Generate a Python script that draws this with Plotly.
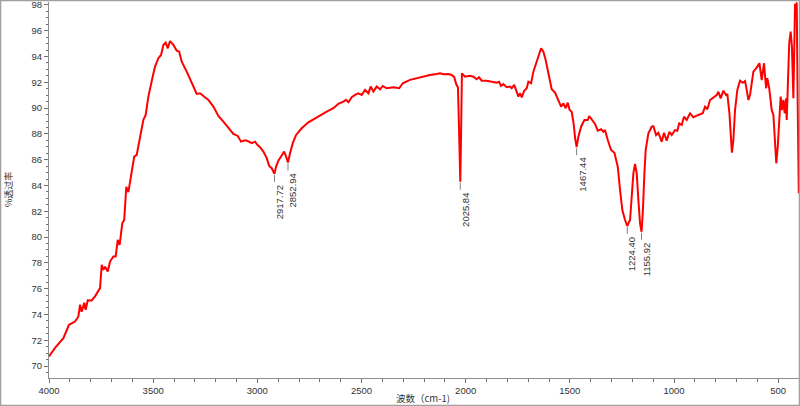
import plotly.graph_objects as go

# Wavenumber (cm-1) and transmittance (%)
wavenumber = [
    4000, 3971, 3931, 3904, 3875, 3859, 3851, 3843, 3831, 3824, 3814, 3795, 3779, 3763, 3755,
    3747, 3739, 3731, 3718, 3707, 3691, 3680, 3670, 3661, 3648, 3639, 3629, 3619, 3606, 3591,
    3579, 3563, 3547, 3536, 3523, 3504, 3491, 3475, 3462, 3451, 3440, 3430, 3419, 3403, 3387,
    3375, 3363, 3339, 3315, 3303, 3291, 3275, 3259, 3235, 3211, 3187, 3163, 3142, 3115, 3094,
    3078, 3063, 3051, 3027, 3011, 3000, 2987, 2971, 2955, 2943, 2931, 2917.72, 2910, 2899, 2883,
    2871, 2862, 2852.94, 2843, 2830, 2814, 2787, 2755, 2731, 2699, 2667, 2635, 2611, 2587, 2574,
    2563, 2547, 2531, 2515, 2499, 2483, 2467, 2456, 2443, 2427, 2411, 2398, 2379, 2347, 2319,
    2302, 2267, 2235, 2203, 2171, 2139, 2123, 2107, 2083, 2067, 2055, 2045, 2037, 2032, 2025.84,
    2022, 2018, 2003, 1979, 1963, 1947, 1936, 1923, 1899, 1875, 1851, 1840, 1830, 1819, 1803,
    1787, 1779, 1767, 1755, 1747, 1739, 1731, 1719, 1707, 1699, 1686, 1675, 1664, 1651, 1638,
    1627, 1616, 1603, 1587, 1571, 1555, 1542, 1531, 1520, 1510, 1501, 1491, 1482, 1474, 1467.44,
    1459, 1446, 1430, 1414, 1407, 1395, 1379, 1366, 1350, 1339, 1331, 1318, 1302, 1286, 1270,
    1259, 1248, 1235, 1224.40, 1211, 1203, 1195, 1187, 1179, 1171, 1163, 1155.92, 1150, 1142, 1136,
    1123, 1107, 1099, 1086, 1075, 1059, 1048, 1035, 1022, 1011, 995, 984, 975, 963, 952,
    939, 923, 907, 883, 862, 851, 840, 827, 808, 795, 787, 776, 763, 750, 744,
    734, 726, 722, 715, 707, 696, 683, 670, 659, 651, 643, 635, 627, 619, 603,
    590, 579, 568, 558, 552, 543, 531, 523, 515, 509, 502, 494, 488, 482, 475,
    469, 462, 459, 453, 447, 440, 434, 427, 422, 419, 414, 411, 406, 401,
]
transmittance = [
    70.74, 71.40, 72.16, 73.20, 73.45, 73.84, 74.75, 74.20, 74.90, 74.36, 75.10, 75.08, 75.40, 75.80, 76.04,
    77.84, 77.46, 77.70, 77.33, 78.10, 78.49, 78.49, 79.78, 79.40, 81.08, 81.33, 83.90, 83.48, 84.70, 86.24,
    86.37, 87.79, 89.09, 89.47, 90.89, 92.32, 93.22, 93.87, 94.12, 94.90, 95.08, 94.64, 95.20, 94.90, 94.46,
    94.38, 93.60, 92.83, 92.05, 91.54, 91.10, 91.15, 90.94, 90.64, 90.12, 89.40, 88.96, 88.52, 88.00, 87.84,
    87.40, 87.48, 87.48, 87.28, 87.40, 87.15, 86.97, 86.63, 86.12, 85.52, 85.34, 84.90, 85.47, 85.93, 86.37,
    86.63, 86.24, 85.78, 86.50, 87.28, 87.92, 88.44, 88.90, 89.14, 89.47, 89.73, 89.99, 90.33, 90.50, 90.64,
    90.46, 90.85, 91.02, 91.15, 91.02, 91.41, 91.15, 91.67, 91.28, 91.67, 91.46, 91.72, 91.54, 91.62, 91.54,
    91.93, 92.19, 92.32, 92.50, 92.57, 92.65, 92.70, 92.63, 92.65, 92.57, 92.40, 91.85, 91.60, 88.50, 84.30,
    88.00, 92.70, 92.44, 92.50, 92.44, 92.24, 92.39, 92.13, 92.13, 92.05, 91.97, 92.05, 91.72, 91.87, 91.62,
    91.67, 91.54, 91.80, 91.15, 90.89, 91.15, 90.84, 91.35, 91.54, 92.05, 91.93, 92.83, 93.35, 94.12, 94.64,
    94.38, 93.73, 92.70, 91.46, 91.20, 90.63, 90.11, 90.37, 89.99, 90.42, 89.85, 89.72, 88.82, 87.60, 86.98,
    87.78, 88.56, 89.08, 89.08, 89.39, 89.08, 88.77, 88.25, 88.36, 88.17, 88.30, 87.53, 86.75, 86.54, 85.46,
    83.65, 82.10, 81.32, 80.86, 81.32, 82.87, 84.94, 85.67, 84.94, 82.87, 81.06, 80.41, 81.84, 84.94, 86.75,
    88.05, 88.56, 88.60, 87.91, 88.09, 87.40, 88.09, 87.47, 88.17, 87.91, 88.30, 88.25, 88.82, 88.69, 89.33,
    89.08, 89.60, 89.29, 89.47, 89.60, 90.11, 89.91, 90.63, 90.84, 91.02, 91.27, 90.76, 91.35, 91.02, 91.10,
    89.60, 87.53, 86.54, 87.53, 89.85, 91.41, 92.13, 91.97, 92.10, 91.41, 90.63, 91.02, 91.93, 92.83, 93.14,
    93.48, 92.18, 93.48, 91.54, 92.32, 91.54, 89.85, 89.47, 87.53, 85.72, 87.01, 89.33, 90.89, 89.85, 90.63,
    89.60, 90.76, 89.08, 91.93, 95.03, 95.93, 94.77, 90.76, 94.51, 98.10, 97.35, 98.20, 90.00, 83.40,
]

# Labelled peaks
peak_x = [2917.72, 2852.94, 2025.84, 1467.44, 1224.40, 1155.92]
peak_y = [84.90, 85.78, 84.30, 86.98, 80.86, 80.41]

# Axis ticks
x_ticks = [4000, 3500, 3000, 2500, 2000, 1500, 1000, 500]
y_ticks = [70, 72, 74, 76, 78, 80, 82, 84, 86, 88, 90, 92, 94, 96, 98]

W, H = 800, 406
L, R, T, B = 49, 1, 2, 28
PW, PH = W - L - R, H - T - B

fig = go.Figure()
fig.add_trace(go.Scatter(
    x=wavenumber, y=transmittance, mode="lines",
    line=dict(color="#ff0000", width=2), hoverinfo="x+y", showlegend=False,
))

tick_font = dict(family="Liberation Sans, Arial, sans-serif", size=9.5, color="#333333")

fig.update_layout(
    width=W, height=H,
    margin=dict(l=L, r=R, t=T, b=B, pad=0, autoexpand=False),
    paper_bgcolor="white", plot_bgcolor="white",
    xaxis=dict(
        range=[4000, 400], tickmode="array", tickvals=x_ticks, automargin=False,
        ticktext=[str(v) for v in x_ticks], ticklabeloverflow="allow",
        showgrid=False, zeroline=False, showline=True, linecolor="#8c8c8c", linewidth=1,
        ticks="outside", ticklen=4, tickcolor="#707070", tickfont=tick_font,
        minor=dict(dtick=100, tick0=0, ticks="outside", ticklen=3, tickcolor="#707070", showgrid=False),
    ),
    yaxis=dict(
        range=[69.07, 98.23], tickmode="array", tickvals=y_ticks, automargin=False,
        ticktext=[str(v) for v in y_ticks], ticklabeloverflow="allow",
        showgrid=False, zeroline=False, showline=True, linecolor="#8c8c8c", linewidth=1,
        ticks="outside", ticklen=4, tickcolor="#707070", tickfont=tick_font,
        minor=dict(dtick=0.5, tick0=0, ticks="outside", ticklen=2, tickcolor="#707070", showgrid=False),
    ),
)

shapes = []
annotations = []
for px_, py_ in zip(peak_x, peak_y):
    shapes.append(dict(
        type="line", xref="x", yref="y", x0=px_, x1=px_,
        ysizemode="pixel", yanchor=py_, y0=-1, y1=-8,
        line=dict(color="#808080", width=1),
    ))
    annotations.append(dict(
        x=px_, y=py_, xref="x", yref="y", text=f"{px_:.2f}", showarrow=False,
        textangle=-90, xanchor="center", yanchor="top", xshift=5, yshift=-9,
        font=dict(family="Liberation Sans, Arial, sans-serif", size=9.5, color="#333333"),
    ))

# Outer frame
shapes.append(dict(
    type="rect", xref="paper", yref="paper",
    x0=(0.5 - L) / PW, x1=(W - 0.5 - L) / PW,
    y0=(PH + T - (H - 0.5)) / PH, y1=(PH + T - 0.5) / PH,
    line=dict(color="#a0a0a0", width=1.5), fillcolor="rgba(0,0,0,0)", layer="above",
))

# Axis titles
annotations.append(dict(
    text="%透过率", xref="paper", yref="paper", x=(8 - L) / PW, y=0.5,
    xanchor="center", yanchor="middle", textangle=-90, showarrow=False,
    font=dict(family="Noto Sans CJK SC, sans-serif", size=9, color="#333333"),
))
annotations.append(dict(
    text="波数（cm-1)", xref="paper", yref="paper", x=(423 - L) / PW, y=-(398 - (H - B)) / PH,
    xanchor="center", yanchor="middle", showarrow=False,
    font=dict(family="Noto Sans CJK SC, sans-serif", size=9.5, color="#333333"),
))

fig.update_layout(shapes=shapes, annotations=annotations)
fig.write_html(
    "out.html",
    config={"displayModeBar": False},
    post_script="document.body.style.margin='0';document.body.style.overflow='hidden';",
)
